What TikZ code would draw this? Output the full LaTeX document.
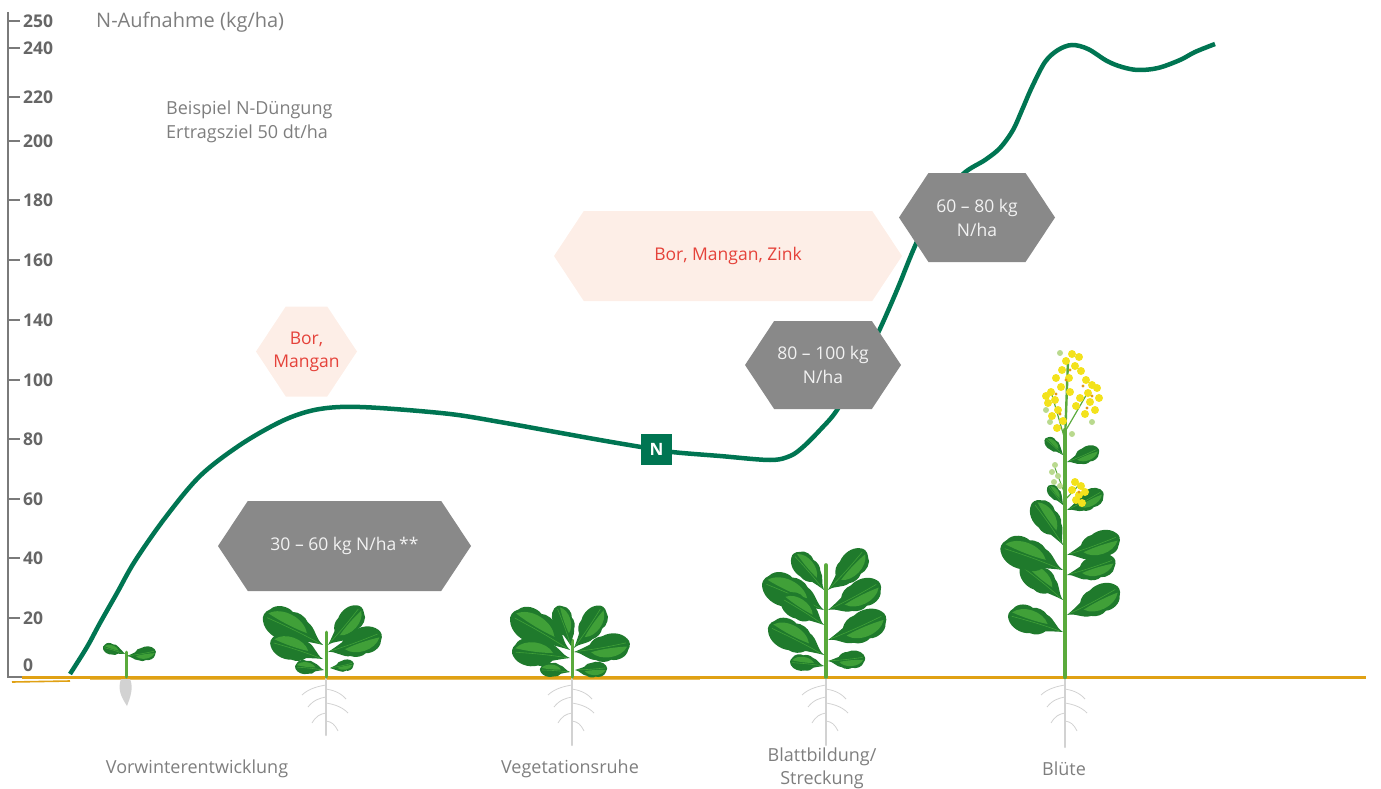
\documentclass[tikz,border=0pt]{standalone}
\usepackage{fontspec}
\setmainfont{Open Sans}
\usetikzlibrary{shapes.symbols}

\definecolor{axisgray}{HTML}{7A7A7A}
\definecolor{labelgray}{HTML}{666666}
\definecolor{textgray}{HTML}{7E7E7E}
\definecolor{curvegreen}{HTML}{007552}
\definecolor{boxgray}{HTML}{898989}
\definecolor{boxtext}{HTML}{F2F2F2}
\definecolor{pinkfill}{HTML}{FDEEE7}
\definecolor{redtext}{HTML}{E5423A}
\definecolor{groundc}{HTML}{E0A114}
\definecolor{leafdark}{HTML}{1F7A2C}
\definecolor{leaflight}{HTML}{40A038}
\definecolor{stemgreen}{HTML}{5AAA3C}
\definecolor{rootgray}{HTML}{D2D2D2}
\definecolor{flowery}{HTML}{F3E21C}
\definecolor{flowero}{HTML}{E39A16}
\definecolor{budgreen}{HTML}{B9D98E}

% one leaf: base x, base y, angle, length
\newcommand{\rapsleaf}[4]{%
  \begin{scope}[shift={(#1,#2)},rotate=#3,scale=#4,yscale=0.85]
    \fill[leafdark] (0,0) .. controls (0.15,0.05) and (0.2,0.22) .. (0.35,0.26)
      .. controls (0.42,0.34) and (0.55,0.36) .. (0.62,0.32)
      .. controls (0.72,0.38) and (0.9,0.34) .. (0.95,0.2)
      .. controls (1.02,0.12) and (1.02,0.02) .. (0.98,-0.04)
      .. controls (0.9,-0.2) and (0.7,-0.26) .. (0.55,-0.2)
      .. controls (0.45,-0.22) and (0.35,-0.16) .. (0.3,-0.08)
      .. controls (0.2,-0.05) and (0.1,-0.02) .. cycle;
    \fill[leaflight] (0.3,0.08) .. controls (0.42,0.3) and (0.8,0.34) .. (0.95,0.12)
      .. controls (0.75,0.08) and (0.5,0.06) .. cycle;
    \draw[leaflight, line width=0.6pt] (0.05,0) .. controls (0.4,0.04) and (0.7,0.04) .. (0.94,0.04);
  \end{scope}}

% roots: x, top y, length
\newcommand{\rapsroot}[3]{%
  \draw[rootgray, line width=2.4pt, line cap=round] (#1,#2) -- (#1,{#2+#3});
  \foreach \d/\s/\w in {6/-1/24, 10/1/20, 18/-1/18, 24/1/22, 34/-1/14, 42/1/12} {
    \draw[rootgray, line width=0.8pt] (#1,{#2+\d}) .. controls ({#1+\s*6},{#2+\d+1}) and ({#1+\s*\w*0.7},{#2+\d+3}) .. ({#1+\s*\w},{#2+\d+10});
  }}

\begin{document}
\begin{tikzpicture}[x=1pt,y=-1pt,
    ticklabel/.style={anchor=west, text=labelgray, inner sep=0pt, font=\fontsize{17.5}{18}\selectfont\bfseries},
    note/.style={text=textgray, inner sep=0pt, align=left, font=\fontsize{18}{24}\selectfont},
    stage/.style={text=textgray, inner sep=0pt, align=center, font=\fontsize{18}{23}\selectfont},
    hexbox/.style={signal, signal to=west and east, signal pointer angle=113, minimum height=90pt, inner sep=0pt, align=center, font=\fontsize{17.5}{24}\selectfont},
    nbox/.style={hexbox, fill=boxgray, text=boxtext},
    mbox/.style={hexbox, fill=pinkfill, text=redtext},
    nmark/.style={fill=curvegreen, text=white, minimum size=31pt, inner sep=0pt, font=\fontsize{17}{17}\selectfont\bfseries},
    stem/.style={draw=stemgreen, line cap=round},
    flower/.style={fill=flowery},
  ]
  \useasboundingbox (0,0) rectangle (1381,789);

  % axis
  \coordinate (atop) at (8,12);
  \coordinate (abot) at (8,677);
  \coordinate (aend) at (22,677);
  \draw[axisgray, line width=1.4pt] (atop) -- (abot) -- (aend);
  \foreach \y/\v in {21/250, 48/240, 97/220, 141/200, 200/180, 260/160, 320/140, 380/100, 439/80, 499/60, 558/40, 618/20} {
    \draw[axisgray, line width=1.2pt] (8,\y) -- (20,\y);
    \node[ticklabel] (t\v) at (23,\y) {\v};
  }
  \node[ticklabel] (t0) at (23,665) {0};

  \node[note, anchor=west, font=\fontsize{20}{22}\selectfont] (ytitle) at (96,22) {N-Aufnahme (kg/ha)};
  \node[note, anchor=west] (example) at (166,122) {Beispiel N-Düngung\\Ertragsziel 50 dt/ha};

  % ground
  \draw[groundc, line width=3pt] (22,677.5) -- (1366,677.5);
  \draw[groundc!70, line width=1pt] (90,679.5) -- (700,679.5);
  \draw[groundc, line width=1.6pt] (12,682) -- (70,681);

  % N uptake curve
  \draw[curvegreen, line width=4.5pt] plot[smooth, tension=0.55] coordinates {
    (70,674) (87,647) (100,623) (117,593) (135,561) (165,518) (200,476) (240,445)
    (280,422) (310,411) (340,407) (380,408) (450,414) (500,422) (550,431)
    (600,440) (641,447) (672,452) (720,456) (770,460) (790,456) (803,447)
    (820,430) (837,410) (858,372) (878,333) (897,290) (915,246) (935,205)
    (963,174) (985,160) (1000,148) (1013,130) (1022,110) (1032,87) (1045,62)
    (1058,50) (1072,45) (1088,49) (1107,61) (1122,67) (1138,70) (1158,68)
    (1180,60) (1195,52) (1215,44)};

  % boxes
  \node[nbox, minimum width=253pt] (n1) at (344.5,546) {30 – 60 kg N/ha\,**};
  \node[mbox, minimum width=101pt] (m1) at (306.5,351.5) {};
  \node[text=redtext, align=center, inner sep=0pt, font=\fontsize{17.5}{23}\selectfont] (m1text) at (m1) {Bor,\\Mangan};
  \node[mbox, minimum width=348pt] (m2) at (728,256) {Bor, Mangan, Zink};
  \node[nbox, minimum width=156pt, minimum height=88pt] (n2) at (823,365) {80 – 100 kg\\N/ha};
  \node[nbox, minimum width=156pt, minimum height=89pt] (n3) at (977,217.5) {60 – 80 kg\\N/ha};
  \node[nmark] (nsym) at (656.5,449.5) {N};

  % seedling
  \fill[rootgray] (121,679) .. controls (117,690) and (122,698) .. (127,706)
    .. controls (130,698) and (134,688) .. (130,679) -- cycle;
  \draw[stem, line width=3pt] (126,677) -- (126,652);
  \rapsleaf{125}{654}{165}{23}
  \rapsleaf{127}{656}{12}{29}

  % plant Vorwinter
  \rapsroot{326}{679}{56}
  \draw[stem, line width=3pt] (326,677) -- (326,632);
  \rapsleaf{323}{645}{156}{66}
  \rapsleaf{323}{659}{164}{55}
  \rapsleaf{324}{670}{176}{29}
  \rapsleaf{328}{645}{52}{50}
  \rapsleaf{328}{652}{22}{56}
  \rapsleaf{330}{668}{14}{24}

  % plant Vegetationsruhe
  \rapsroot{572}{679}{66}
  \draw[stem, line width=3pt] (572,677) -- (572,640);
  \rapsleaf{570}{650}{152}{68}
  \rapsleaf{570}{658}{176}{58}
  \rapsleaf{570}{672}{178}{30}
  \rapsleaf{571}{646}{112}{42}
  \rapsleaf{574}{648}{58}{50}
  \rapsleaf{574}{652}{12}{56}
  \rapsleaf{575}{670}{6}{32}

  % plant Blattbildung
  \rapsroot{826}{679}{66}
  \draw[stem, line width=3.6pt] (826,677) -- (826,565);
  \rapsleaf{824}{590}{133}{47}
  \rapsleaf{824}{610}{158}{67}
  \rapsleaf{824}{625}{150}{50}
  \rapsleaf{824}{655}{155}{62}
  \rapsleaf{824}{666}{176}{34}
  \rapsleaf{828}{590}{50}{54}
  \rapsleaf{828}{610}{30}{58}
  \rapsleaf{828}{640}{26}{62}
  \rapsleaf{828}{661}{8}{37}

  % plant Bluete
  \rapsroot{1065}{679}{68}
  \draw[stem, line width=4.4pt] (1065,677) -- (1065,430);
  \draw[stem, line width=2.4pt] (1065,440) -- (1068,360);
  \draw[stem, line width=1.2pt] (1065,440) -- (1052,395);
  \draw[stem, line width=1.2pt] (1066,430) -- (1088,392);
  \draw[stem, line width=1.2pt] (1065,500) -- (1078,486);
  \draw[stem, line width=1pt] (1064,492) -- (1055,468);
  \rapsleaf{1063}{632}{165}{57}
  \rapsleaf{1067}{615}{30}{58}
  \rapsleaf{1063}{600}{143}{54}
  \rapsleaf{1063}{570}{162}{66}
  \rapsleaf{1067}{575}{20}{50}
  \rapsleaf{1067}{555}{22}{55}
  \rapsleaf{1063}{545}{127}{52}
  \rapsleaf{1063}{505}{130}{24}
  \rapsleaf{1067}{510}{30}{40}
  \rapsleaf{1063}{455}{140}{24}
  \rapsleaf{1067}{462}{25}{34}
  \foreach \x/\y in {1055/465, 1052/472, 1058/476, 1054/482, 1060/486, 1050/422, 1072/434, 1092/422, 1060/353, 1046/410}
    \fill[budgreen] (\x,\y) circle (3pt);
  \foreach \x/\y in {1072/354, 1079/357, 1066/361, 1075/366, 1062/370, 1081/371, 1056/378,
    1069/378, 1086/380, 1092/385, 1061/387, 1051/392, 1088/393, 1097/388, 1055/400,
    1048/403, 1090/402, 1080/398, 1058/410, 1052/416, 1095/410, 1063/421, 1057/428,
    1085/414, 1099/398, 1070/392, 1076/406, 1046/396,
    1075/482, 1081/486, 1072/490, 1079/495, 1085/492, 1076/500, 1082/503}
    \fill[flower] (\x,\y) circle (4pt);
  \foreach \x/\y in {1070/370, 1083/386, 1056/394, 1092/396, 1060/414, 1079/492, 1066/380, 1087/408}
    \fill[flowero] (\x,\y) circle (1.6pt);

  % stages
  \node[stage] (s1) at (197,769) {Vorwinterentwicklung};
  \node[stage] (s2) at (570,769) {Vegetationsruhe};
  \node[stage] (s3) at (822,768.5) {Blattbildung/\\Streckung};
  \node[stage] (s4) at (1064,769) {Blüte};
\end{tikzpicture}
\end{document}
